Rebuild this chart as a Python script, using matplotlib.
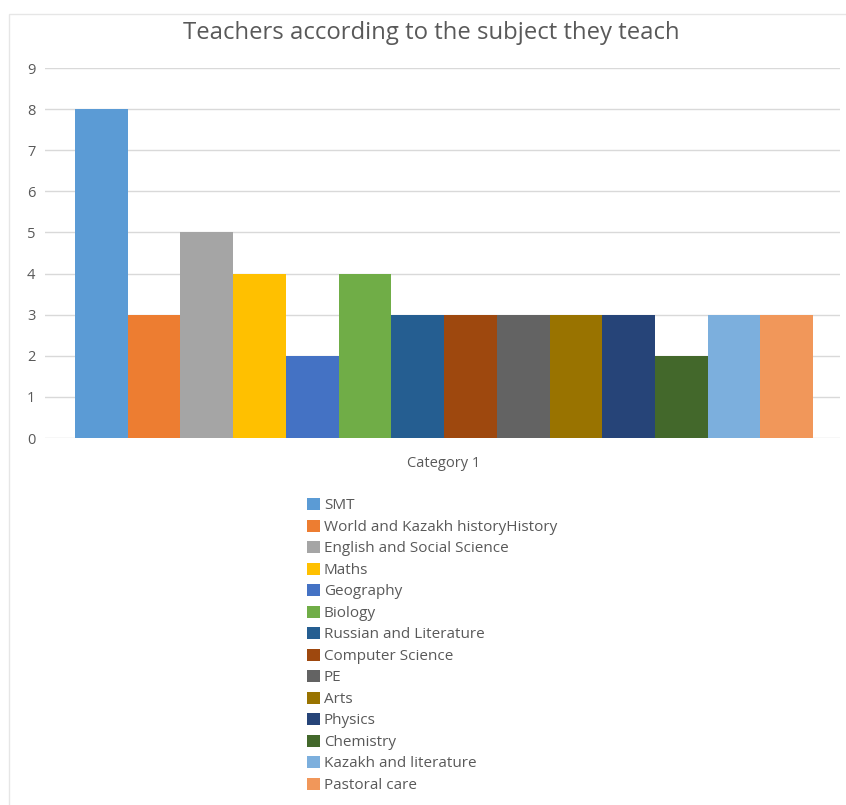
import matplotlib
matplotlib.use('Agg')
import matplotlib.pyplot as plt
import matplotlib.patches as mpatches

subjects = ["SMT", "World and Kazakh historyHistory", "English and Social Science",
            "Maths", "Geography", "Biology", "Russian and Literature",
            "Computer Science", "PE", "Arts", "Physics", "Chemistry",
            "Kazakh and literature", "Pastoral care"]
teachers = [8, 3, 5, 4, 2, 4, 3, 3, 3, 3, 3, 2, 3, 3]
colors = ['#5B9BD5', '#ED7D31', '#A5A5A5', '#FFC000', '#4472C4', '#70AD47',
          '#255E91', '#9E480E', '#636363', '#997300', '#264478', '#43682B',
          '#7CAFDD', '#F1975A']
category = "Category 1"
yticks = list(range(0, 10))

plt.rcParams['font.family'] = ['Open Sans', 'DejaVu Sans']

fig = plt.figure(figsize=(8.46, 8.05), dpi=100)
fig.patch.set_facecolor('white')

# faint chart frame (left and top edges only visible)
fig.add_artist(mpatches.Rectangle((9/846, -0.05), 1.2, 1 - 14/805 + 0.05,
               transform=fig.transFigure, fill=False, edgecolor='#E6E6E6', lw=1))

ax = fig.add_axes([45/846, 1 - 438/805, 795/846, (438 - 68)/805])
handles = []
for i, (name, v, c) in enumerate(zip(subjects, teachers, colors)):
    b = ax.bar(i, v, width=1.0, align='edge', color=c, label=name, zorder=3)
    handles.append(b)

ax.set_ylim(0, 9)
ax.set_xlim(-0.57, 14.51)
ax.set_yticks(yticks)
ax.set_xticks([7])
ax.set_xticklabels([category])
ax.grid(axis='y', color='#D9D9D9', lw=1, zorder=0)
for s in ax.spines.values():
    s.set_visible(False)
ax.tick_params(axis='both', length=0, colors='#595959', labelsize=10.5)
ax.tick_params(axis='x', pad=13)
ax.tick_params(axis='y', pad=7)

fig.text(431/846, 1 - 33/805, "Teachers according to the subject they teach",
         ha='center', va='center', fontsize=17.2, color='#595959')

fig.legend(handles=handles, labels=subjects, loc='upper left',
           bbox_to_anchor=(301/846, 1 - 492/805), frameon=False,
           fontsize=11, labelcolor='#595959', handlelength=0.85, handleheight=0.85,
           handletextpad=0.25, labelspacing=0.40, borderaxespad=0)

fig.savefig('out.png', dpi=100, facecolor='white')
